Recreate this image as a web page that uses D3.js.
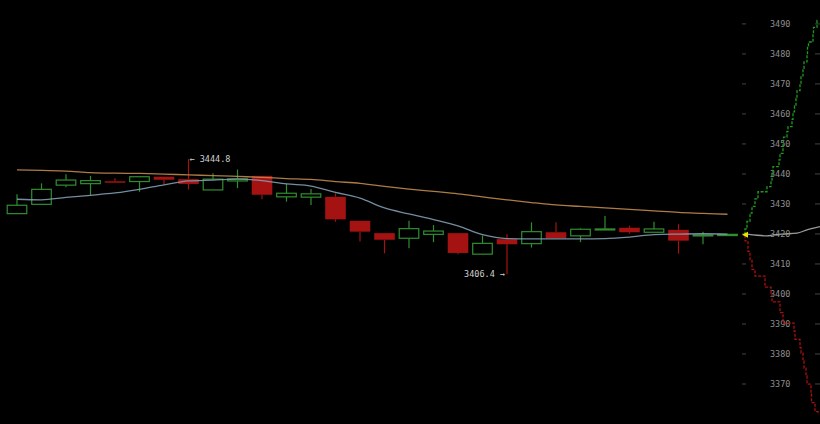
<!DOCTYPE html>
<html>
<head>
<meta charset="utf-8">
<script src="https://cdn.jsdelivr.net/npm/d3@7"></script>
<style>
  html, body { margin: 0; padding: 0; background: #000; }
  svg { display: block; }
  .axis text { fill: #8e8e8e; font-family: "DejaVu Sans Mono", monospace; font-size: 8.5px; }
  .axis line { stroke: #444; }
  .note { fill: #cfcfcf; font-family: "DejaVu Sans Mono", monospace; font-size: 8.5px; }
</style>
</head>
<body>
<svg id="chart"></svg>
<script>
let w = 820;
let h = 424;

// candles (one per period)
let candles = d3.range(1, 31);
let opens  = [3426.6, 3429.7, 3436.1, 3436.6, 3437.4, 3437.3, 3438.9, 3438.1, 3434.5, 3437.5,
              3439.2, 3432.2, 3432.1, 3432.2, 3424.2, 3420.1, 3418.4, 3419.7, 3420.1, 3413.1,
              3418.1, 3416.6, 3420.4, 3419.2, 3421.3, 3421.9, 3420.4, 3421.2, 3419.2, 3419.3];
let highs  = [3433.1, 3436.7, 3439.7, 3439.2, 3438.4, 3438.9, 3439.0, 3444.8, 3440.1, 3441.3,
              3439.3, 3436.6, 3434.8, 3433.4, 3424.2, 3420.1, 3424.2, 3422.8, 3420.1, 3419.3,
              3419.7, 3423.7, 3423.7, 3421.7, 3425.8, 3422.6, 3423.9, 3423.1, 3420.6, 3419.7];
let lows   = [3426.6, 3429.7, 3435.4, 3432.8, 3437.3, 3433.9, 3436.4, 3434.6, 3434.5, 3435.1,
              3431.4, 3430.6, 3429.5, 3423.9, 3417.3, 3413.4, 3415.1, 3417.1, 3413.1, 3413.1,
              3406.4, 3415.3, 3418.4, 3417.1, 3421.3, 3419.9, 3420.4, 3413.3, 3416.4, 3419.3];
let closes = [3429.4, 3434.7, 3437.8, 3437.6, 3437.3, 3438.9, 3437.9, 3436.5, 3438.1, 3438.2,
              3432.9, 3433.4, 3433.2, 3424.7, 3420.6, 3417.9, 3421.6, 3420.8, 3413.5, 3416.7,
              3416.4, 3420.6, 3418.4, 3421.4, 3421.5, 3420.4, 3421.5, 3417.6, 3419.5, 3419.7];

// moving averages
let maSlow = [3441.2, 3441.0, 3440.8, 3440.3, 3440.1, 3440.0, 3439.8, 3439.5, 3439.3, 3439.0,
              3438.7, 3438.3, 3438.0, 3437.3, 3436.7, 3435.7, 3434.8, 3434.0, 3433.2, 3432.2,
              3431.2, 3430.3, 3429.5, 3429.0, 3428.5, 3428.0, 3427.5, 3427.0, 3426.7, 3426.4];
let maFast = [3431.4, 3431.2, 3432.0, 3432.7, 3433.5, 3434.7, 3436.2, 3437.5, 3437.8, 3438.1,
              3437.6, 3436.5, 3435.8, 3433.7, 3431.8, 3428.5, 3426.5, 3424.6, 3422.5, 3419.6,
              3418.3, 3418.2, 3418.2, 3418.2, 3418.3, 3418.8, 3419.6, 3419.8, 3419.9, 3419.8];

// order book depth (price, cumulative volume)
let askPrices = [3419.6, 3421.5, 3424.0, 3426.8, 3429.0, 3431.5, 3433.9, 3435.6, 3437.5, 3440.0,
                 3442.3, 3444.5, 3446.7, 3449.5, 3452.1, 3454.0, 3455.6, 3458.0, 3460.5, 3462.5,
                 3465.0, 3467.6, 3470.0, 3472.5, 3475.0, 3477.2, 3479.5, 3482.0, 3483.8, 3486.5,
                 3488.7, 3491.0];
let askVolumes = [0, 2, 5, 7, 10, 13, 22, 26, 27, 28,
                  34, 35, 38, 38.5, 42, 43, 47, 48, 49.5, 51,
                  52, 55, 56, 58, 59, 62, 62.5, 63.5, 68, 68.5,
                  72, 73.5];
let bidPrices = [3419.4, 3417.5, 3414.0, 3411.0, 3408.0, 3405.8, 3402.1, 3400.1, 3397.2, 3393.6,
                 3390.1, 3387.5, 3384.7, 3382.0, 3380.1, 3377.5, 3375.1, 3372.5, 3369.8, 3366.5,
                 3363.6, 3360.6, 3359.8];
let bidVolumes = [0, 3, 5, 7, 10, 20, 26, 27, 35, 38,
                  49, 50, 55, 56, 58, 59, 61, 62, 66, 66.5,
                  70, 73, 73.5];
let tradePrices  = [3419.8, 3419.4, 3419.2, 3419.5, 3419.8, 3420.1, 3421.2, 3422.3];
let tradeVolumes = [2, 12, 22, 28, 38, 52, 62, 75];

let lastPrice = 3419.6;
let highNote = "← 3444.8";
let lowNote = "3406.4 →";
let priceTicks = d3.range(3370, 3491, 10);

let svg = d3.select("#chart").attr("width", w).attr("height", h);
svg.append("rect").attr("width", w).attr("height", h).attr("fill", "#000");

let yScale = d3.scaleLinear().domain([3356.5, 3497.8]).range([h, 0]);
let xScale = d3.scaleBand().domain(candles).range([4.75, 739.75])
  .paddingInner(0.16).paddingOuter(0.08);
let depthX = d3.scaleLinear().domain([0, 75]).range([745, 820]);

let data = candles.map(function (c, i) {
  return { c: c, o: opens[i], h: highs[i], l: lows[i], cl: closes[i] };
});

let green = "#2f8f2f", red = "#a51212";

// price axis
svg.append("g")
  .attr("class", "axis")
  .attr("transform", "translate(742,0)")
  .call(d3.axisRight(yScale).tickValues(priceTicks).tickSize(4).tickPadding(24).tickFormat(d3.format("d")))
  .call(g => g.select(".domain").remove());
svg.append("g")
  .attr("class", "axis")
  .attr("transform", "translate(820,0)")
  .call(d3.axisLeft(yScale).tickValues(priceTicks).tickSize(5).tickFormat(""))
  .call(g => g.select(".domain").remove());

// candles
let cg = svg.append("g");
let bw = xScale.bandwidth();
data.forEach(function (d) {
  let up = d.cl >= d.o;
  let cx = xScale(d.c) + bw / 2;
  let top = yScale(Math.max(d.o, d.cl)), bot = yScale(Math.min(d.o, d.cl));
  let col = up ? green : red;
  if (yScale(d.h) < top - 0.5) {
    cg.append("line").attr("x1", cx).attr("x2", cx).attr("y1", yScale(d.h)).attr("y2", top)
      .attr("stroke", col).attr("stroke-width", 1.2);
  }
  if (yScale(d.l) > bot + 0.5) {
    cg.append("line").attr("x1", cx).attr("x2", cx).attr("y1", bot).attr("y2", yScale(d.l))
      .attr("stroke", col).attr("stroke-width", 1.2);
  }
  if (up) {
    cg.append("rect").attr("x", xScale(d.c) + 0.5).attr("y", top)
      .attr("width", bw - 1).attr("height", Math.max(bot - top, 1))
      .attr("fill", "none").attr("stroke", col).attr("stroke-width", 1.2);
  } else {
    cg.append("rect").attr("x", xScale(d.c)).attr("y", top)
      .attr("width", bw).attr("height", Math.max(bot - top, 1.5))
      .attr("fill", col);
  }
});

// moving averages
let maLine = d3.line()
  .x((d, i) => xScale(candles[i]) + bw / 2)
  .y(d => yScale(d))
  .curve(d3.curveMonotoneX);
svg.append("path").datum(maSlow).attr("d", maLine)
  .attr("fill", "none").attr("stroke", "#c08a4c").attr("stroke-width", 1.3).attr("opacity", 0.9);
svg.append("path").datum(maFast).attr("d", maLine)
  .attr("fill", "none").attr("stroke", "#809cb0").attr("stroke-width", 1.3).attr("opacity", 0.9);

// depth
let depthLine = d3.line()
  .x(d => depthX(d[1]))
  .y(d => yScale(d[0]))
  .curve(d3.curveStepBefore);
svg.append("path").datum(d3.zip(askPrices, askVolumes)).attr("d", depthLine)
  .attr("fill", "none").attr("stroke", "#1f9a1f").attr("stroke-width", 1.3)
  .attr("stroke-dasharray", "3,1.5");
svg.append("path").datum(d3.zip(bidPrices, bidVolumes)).attr("d", depthLine)
  .attr("fill", "none").attr("stroke", "#a81010").attr("stroke-width", 1.3)
  .attr("stroke-dasharray", "3,1.5");
svg.append("path").datum(d3.zip(tradePrices, tradeVolumes))
  .attr("d", d3.line().x(d => depthX(d[1])).y(d => yScale(d[0])).curve(d3.curveMonotoneX))
  .attr("fill", "none").attr("stroke", "#9a9a9a").attr("stroke-width", 1.3);

// last price marker
let ly = yScale(lastPrice), lx = depthX(0);
svg.append("path")
  .attr("d", "M" + (lx - 3) + "," + ly + "L" + (lx + 3) + "," + (ly - 3) + "L" + (lx + 3) + "," + (ly + 3) + "Z")
  .attr("fill", "#e6e600");

// high / low notes
let iHigh = highs.indexOf(d3.max(highs));
let iLow = lows.indexOf(d3.min(lows));
svg.append("text").attr("class", "note")
  .attr("x", xScale(candles[iHigh]) + bw / 2 + 1)
  .attr("y", yScale(highs[iHigh]) + 3)
  .text(highNote);
svg.append("text").attr("class", "note")
  .attr("text-anchor", "end")
  .attr("x", xScale(candles[iLow]) + bw / 2 - 2)
  .attr("y", yScale(lows[iLow]) + 3)
  .text(lowNote);
</script>
</body>
</html>
